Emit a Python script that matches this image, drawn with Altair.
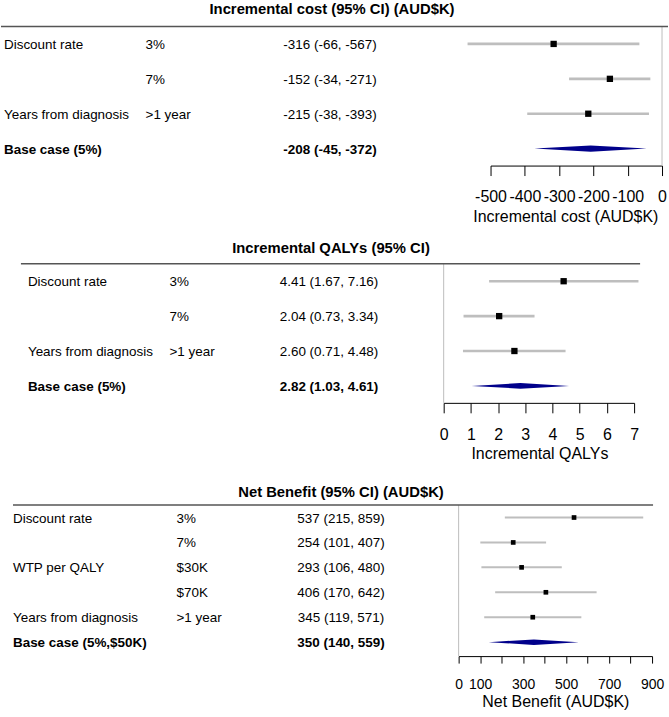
import altair as alt
import pandas as pd

FONT = "Liberation Sans"
GRAY = "#BEBEBE"
ZERO = "#BDBDBD"
LINE = "#555555"
NAVY = "#00008B"

# ---------- Panel 1: incremental cost ----------
cost_title = "Incremental cost (95% CI) (AUD$K)"
cost_groups = ["Discount rate", "", "Years from diagnosis"]
cost_levels = ["3%", "7%", ">1 year"]
cost_ci_text = ["-316 (-66, -567)", "-152 (-34, -271)", "-215 (-38, -393)"]
cost_est = [-316, -152, -215]
cost_lo = [-567, -271, -393]
cost_hi = [-66, -34, -38]
cost_base_label = "Base case (5%)"
cost_base_text = "-208 (-45, -372)"
cost_base = [-372, -208, -45]  # lower, estimate, upper
cost_xlabel = "Incremental cost (AUD$K)"
cost_ticks = [-500, -400, -300, -200, -100, 0]
cost_domain = [-500, 0]

# ---------- Panel 2: incremental QALYs ----------
qaly_title = "Incremental QALYs (95% CI)"
qaly_groups = ["Discount rate", "", "Years from diagnosis"]
qaly_levels = ["3%", "7%", ">1 year"]
qaly_ci_text = ["4.41 (1.67, 7.16)", "2.04 (0.73, 3.34)", "2.60 (0.71, 4.48)"]
qaly_est = [4.41, 2.04, 2.60]
qaly_lo = [1.67, 0.73, 0.71]
qaly_hi = [7.16, 3.34, 4.48]
qaly_base_label = "Base case (5%)"
qaly_base_text = "2.82 (1.03, 4.61)"
qaly_base = [1.03, 2.82, 4.61]
qaly_xlabel = "Incremental QALYs"
qaly_ticks = [0, 1, 2, 3, 4, 5, 6, 7]
qaly_domain = [0, 7]

# ---------- Panel 3: net benefit ----------
nb_title = "Net Benefit (95% CI) (AUD$K)"
nb_groups = ["Discount rate", "", "WTP per QALY", "", "Years from diagnosis"]
nb_levels = ["3%", "7%", "$30K", "$70K", ">1 year"]
nb_ci_text = ["537 (215, 859)", "254 (101, 407)", "293 (106, 480)",
              "406 (170, 642)", "345 (119, 571)"]
nb_est = [537, 254, 293, 406, 345]
nb_lo = [215, 101, 106, 170, 119]
nb_hi = [859, 407, 480, 642, 571]
nb_base_label = "Base case (5%,$50K)"
nb_base_text = "350 (140, 559)"
nb_base = [140, 350, 559]
nb_xlabel = "Net Benefit (AUD$K)"
nb_ticks = [0, 100, 200, 300, 400, 500, 600, 700, 800, 900]
nb_domain = [0, 900]


def panel(title, groups, levels, ci_text, est, lo, hi, base_label, base_text,
          base, xlabel, ticks, domain, g):
    n = len(groups)
    rows = list(range(1, n + 1))
    df = pd.DataFrame({"r": rows, "est": est, "lo": lo, "hi": hi})
    tbl = pd.DataFrame({"r": rows, "group": groups, "level": levels, "txt": ci_text})
    btbl = pd.DataFrame({"r": [n + 1], "group": [base_label], "level": [""],
                         "txt": [base_text]})
    b = n + 1
    dia = pd.DataFrame({"x": base, "y": [b, b - g["dh"], b], "y2": [b, b + g["dh"], b]})
    misc = pd.DataFrame({"z": [0], "ya": [0.5], "r": [0], "t": [title]})

    xs = alt.Scale(domain=domain, range=g["xr"], nice=False, zero=False)
    ys = alt.Scale(domain=[0, n + 1], range=g["yr"], nice=False, zero=False)
    xaxis = alt.Axis(
        values=ticks, title=xlabel, grid=False,
        domainColor="black", tickColor="black", labelColor="black", titleColor="black",
        domainWidth=1, tickWidth=1, tickSize=g["tick"],
        labelFont=FONT, titleFont=FONT, labelFontSize=g["lfs"], titleFontSize=g["tfs"],
        titleFontWeight="normal", labelPadding=g["lpad"], titlePadding=g["tpad"],
        labelFlush=False, labelOverlap=False, titleX=g["titlex"],
        labelExpr=g["lexpr"],
    )
    X = lambda f: alt.X(f, scale=xs, axis=xaxis)
    Y = lambda f: alt.Y(f, scale=ys, axis=None)
    ci = alt.Chart(df).mark_rule(color=GRAY, strokeWidth=g["ciw"]).encode(
        x=X("lo:Q"), x2="hi:Q", y=Y("r:Q"))
    sq = alt.Chart(df).mark_square(color="black", size=g["sq"], opacity=1).encode(
        x=X("est:Q"), y=Y("r:Q"))
    dm = alt.Chart(dia).mark_area(color=NAVY, opacity=1).encode(
        x=X("x:Q"), y=Y("y:Q"), y2="y2:Q")
    zero = alt.Chart(misc).mark_rule(color=ZERO, strokeWidth=1).encode(
        x=X("z:Q"), y=Y("ya:Q"), y2=alt.value(g["h"]))
    hline = alt.Chart(misc).mark_rule(color=LINE, strokeWidth=1.6).encode(
        x=alt.value(g["lx"][0]), x2=alt.value(g["lx"][1]), y=Y("ya:Q"))
    ttl = alt.Chart(misc).mark_text(font=FONT, fontSize=14.85, fontWeight="bold",
                                    align="center", baseline="middle", color="black",
                                    dy=g["tdy"]).encode(
        x=alt.value(g["tx"]), y=Y("r:Q"), text="t:N")
    layers = [zero, hline, ci, sq, dm, ttl]
    for data, weight in ((tbl, "normal"), (btbl, "bold")):
        kw = dict(font=FONT, fontSize=13.5, baseline="middle", color="black", dy=1,
                  fontWeight=weight)
        layers.append(alt.Chart(data).mark_text(align="left", **kw).encode(
            x=alt.value(g["c1"]), y=Y("r:Q"), text="group:N"))
        layers.append(alt.Chart(data).mark_text(align="left", **kw).encode(
            x=alt.value(g["c2"]), y=Y("r:Q"), text="level:N"))
        layers.append(alt.Chart(data).mark_text(align="center", **kw).encode(
            x=alt.value(g["c3"]), y=Y("r:Q"), text="txt:N"))
    return alt.layer(*layers).properties(width=669, height=g["h"])


neg_expr = "datum.value < 0 ? '-' + abs(datum.value) : '' + datum.value"

p1 = panel(cost_title, cost_groups, cost_levels, cost_ci_text, cost_est, cost_lo, cost_hi,
           cost_base_label, cost_base_text, cost_base, cost_xlabel, cost_ticks, cost_domain,
           dict(h=165, xr=[491, 663], yr=[8, 148], dh=0.09, ciw=2.7, sq=40, tick=10,
                lfs=16, tfs=16, lpad=13, tpad=4, titlex=566, lexpr=neg_expr,
                lx=[0, 669], tx=332, tdy=1, c1=3, c2=145, c3=330))
p2 = panel(qaly_title, qaly_groups, qaly_levels, qaly_ci_text, qaly_est, qaly_lo, qaly_hi,
           qaly_base_label, qaly_base_text, qaly_base, qaly_xlabel, qaly_ticks, qaly_domain,
           dict(h=238, xr=[444, 635], yr=[81, 221], dh=0.08, ciw=2.7, sq=40, tick=10,
                lfs=16, tfs=16, lpad=14, tpad=3, titlex=540, lexpr="'' + datum.value",
                lx=[20, 641], tx=331, tdy=3, c1=27, c2=169, c3=329))
p3 = panel(nb_title, nb_groups, nb_levels, nb_ci_text, nb_est, nb_lo, nb_hi,
           nb_base_label, nb_base_text, nb_base, nb_xlabel, nb_ticks, nb_domain,
           dict(h=254, xr=[459, 653], yr=[90, 240], dh=0.11, ciw=2, sq=22, tick=7,
                lfs=14, tfs=16, lpad=14, tpad=3, titlex=556,
                lexpr="(datum.value == 0 || datum.value % 200 == 100) ? '' + datum.value : ''",
                lx=[12, 654], tx=341, tdy=0, c1=12, c2=176, c3=341))

chart = alt.vconcat(p1, p2, p3, spacing=0, bounds="flush").properties(
    padding=0).configure_view(stroke=None)

chart.save("out.html", embed_options={"renderer": "svg", "actions": False})
